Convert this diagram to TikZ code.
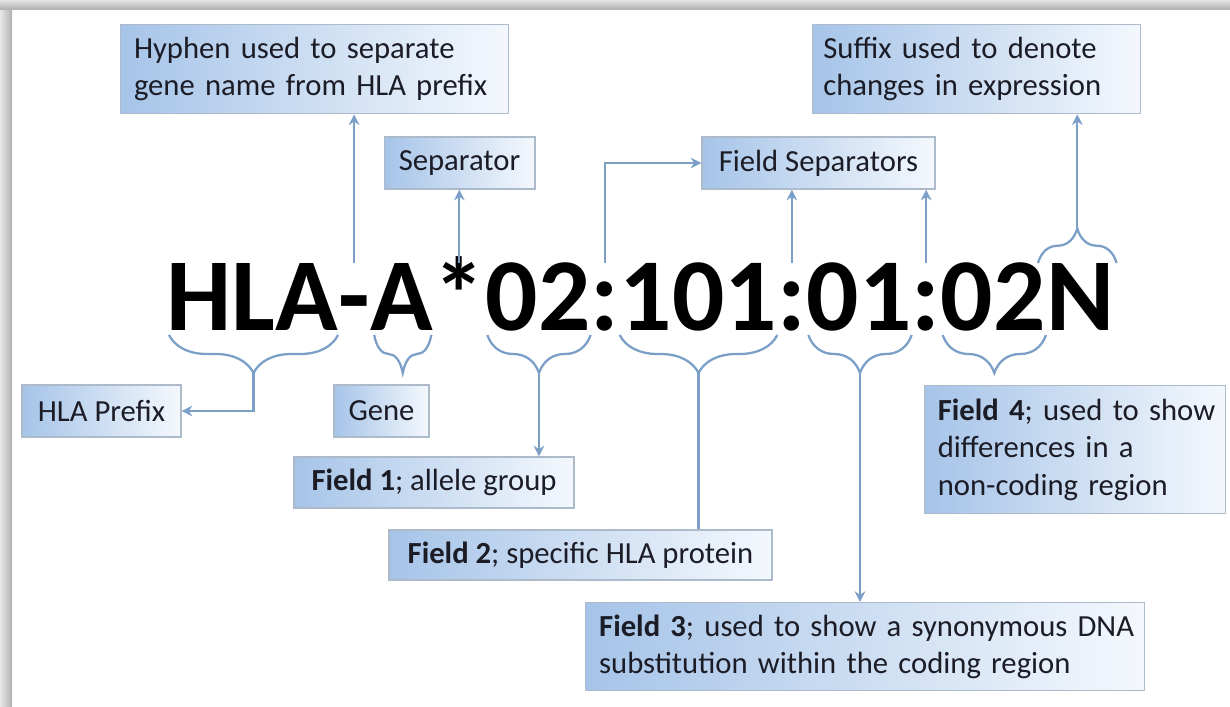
\documentclass[tikz,border=0pt]{standalone}
\usepackage{fontspec}
\setmainfont{Carlito}
\usetikzlibrary{arrows.meta,decorations.pathreplacing,calc}
\definecolor{lnc}{RGB}{123,159,199}
\definecolor{bxl}{RGB}{166,196,232}
\definecolor{bxr}{RGB}{244,248,253}
\definecolor{bxd}{RGB}{172,186,202}
\definecolor{txt}{RGB}{28,28,38}
\tikzset{
  lbl/.style={draw=bxd, line width=1pt, left color=bxl, right color=bxr, text=txt,
    font=\fontsize{23}{28}\selectfont, inner sep=0pt},
  big/.style={font=\fontsize{77.5}{80}\selectfont\bfseries, inner sep=0pt, anchor=base west,
    text height=50pt, text depth=0pt},
  conn/.style={draw=lnc, line width=1.7pt},
  arr/.style={conn, -{Stealth[length=8pt,width=8pt]}},
  brcd/.style={draw=lnc, line width=1.7pt, decorate, decoration={brace, mirror, amplitude=28.5pt}},
  brcu/.style={draw=lnc, line width=1.7pt, decorate, decoration={brace, amplitude=26pt}},
}
\begin{document}
\begin{tikzpicture}[x=0.75pt,y=-0.75pt]
\useasboundingbox (0,0) rectangle (1230,706);
% frame
\fill[white] (0,0) rectangle (1230,706);
\shade[left color=gray!18, right color=gray!62] (0,0) rectangle (12,706);
\shade[top color=gray!22, bottom color=gray!65] (0,0) rectangle (1230,10);
% big designation
\node[big] (t1) at (166,330) {HLA};
\node[big] (t2) at (t1.base east) {-};
\node[big] (t3) at (t2.base east) {A};
\node[big] (t4) at (t3.base east) {*};
\node[big] (t5) at (t4.base east) {02};
\node[big] (t6) at (t5.base east) {:};
\node[big] (t7) at (t6.base east) {101};
\node[big] (t8) at (t7.base east) {:};
\node[big] (t9) at (t8.base east) {01};
\node[big] (t10) at (t9.base east) {:};
\node[big] (t11) at (t10.base east) {02};
\node[big] (t12) at (t11.base east) {N};
% label boxes
\node[lbl, anchor=north west, minimum width=291pt, minimum height=66.75pt,
      text width=271pt, align=left, inner xsep=10pt] (hyph) at (120,24)
      {\mbox{Hyphen used to separate}\\\mbox{gene name from HLA prefix}};
\node[lbl, minimum width=113pt, minimum height=39pt] (sep) at (459.5,163) {Separator};
\node[lbl, minimum width=174.75pt, minimum height=39pt] (fsep) at (818.5,163) {Field Separators};
\node[lbl, anchor=north west, minimum width=246pt, minimum height=66.75pt,
      text width=230pt, align=left, inner xsep=8pt] (suff) at (812,24)
      {\mbox{Suffix used to denote}\\\mbox{changes in expression}};
\node[lbl, minimum width=119.25pt, minimum height=39pt] (hlap) at (101.5,411) {HLA Prefix};
\node[lbl, minimum width=71.25pt, minimum height=39pt] (gene) at (381.5,411) {Gene};
\node[lbl, minimum width=210pt, minimum height=38.25pt] (f1) at (434,482.5)
      {\textbf{Field 1}; allele group};
\node[lbl, minimum width=287.25pt, minimum height=37.5pt] (f2) at (580.5,555)
      {\textbf{Field 2}; specific HLA protein};
\node[lbl, anchor=north west, minimum width=419.25pt, minimum height=66pt,
      text width=399pt, align=left, inner xsep=10pt] (f3) at (585,602)
      {\mbox{\textbf{Field 3}; used to show a synonymous DNA}\\\mbox{substitution within the coding region}};
\node[lbl, anchor=north west, minimum width=225.75pt, minimum height=96pt,
      text width=206pt, align=left, inner xsep=9.5pt] (f4) at (924,385)
      {\mbox{\textbf{Field 4}; used to show}\\\mbox{differences in a}\\\mbox{non-coding region}};
% upward connectors from separators
\draw[arr] (t2.north) -- (t2.north |- hyph.south);
\draw[arr] (t4.north) -- (t4.north |- sep.south);
\draw[arr] (t6.north) |- (fsep.west);
\draw[arr] (t8.north) -- (t8.north |- fsep.south);
\draw[arr] (t10.north) -- (t10.north |- fsep.south);
% braces below
\coordinate (b1l) at ($(t1.base west)+(3,5)$);
\coordinate (b1r) at ($(t1.base east)+(0,5)$);
\coordinate (b3l) at ($(t3.base west)+(4,5)$);
\coordinate (b3r) at ($(t3.base east)+(-2,5)$);
\coordinate (b5l) at ($(t5.base west)+(2,5)$);
\coordinate (b5r) at ($(t5.base east)+(0,5)$);
\coordinate (b7l) at ($(t7.base west)+(0,5)$);
\coordinate (b7r) at ($(t7.base east)+(0,5)$);
\coordinate (b9l) at ($(t9.base west)+(2,5)$);
\coordinate (b9r) at ($(t9.base east)+(0,5)$);
\coordinate (b11l) at ($(t11.base west)+(2,5)$);
\coordinate (b11r) at ($(t11.base east)+(0,5)$);
\foreach \b in {1,3,5,7,9,11} {
  \draw[brcd] (b\b l) -- (b\b r);
  \coordinate (b\b) at ($(b\b l)!0.5!(b\b r)+(0,38)$);
}
% brace above N
\coordinate (bnl) at ($(t12.north west)+(-8,0)$);
\coordinate (bnr) at ($(t12.north east)+(2,0)$);
\draw[brcu] (bnl) -- (bnr);
\coordinate (bn) at ($(bnl)!0.5!(bnr)+(0,-35)$);
% downward connectors from braces
\draw[arr] (b1) |- (hlap.east);
\draw[arr] (b5) -- (b5 |- f1.north);
\draw[conn] (b7) -- (b7 |- f2.north);
\draw[arr] (b9) -- (b9 |- f3.north);
\draw[arr] (bn) -- (bn |- suff.south);
\end{tikzpicture}
\end{document}
